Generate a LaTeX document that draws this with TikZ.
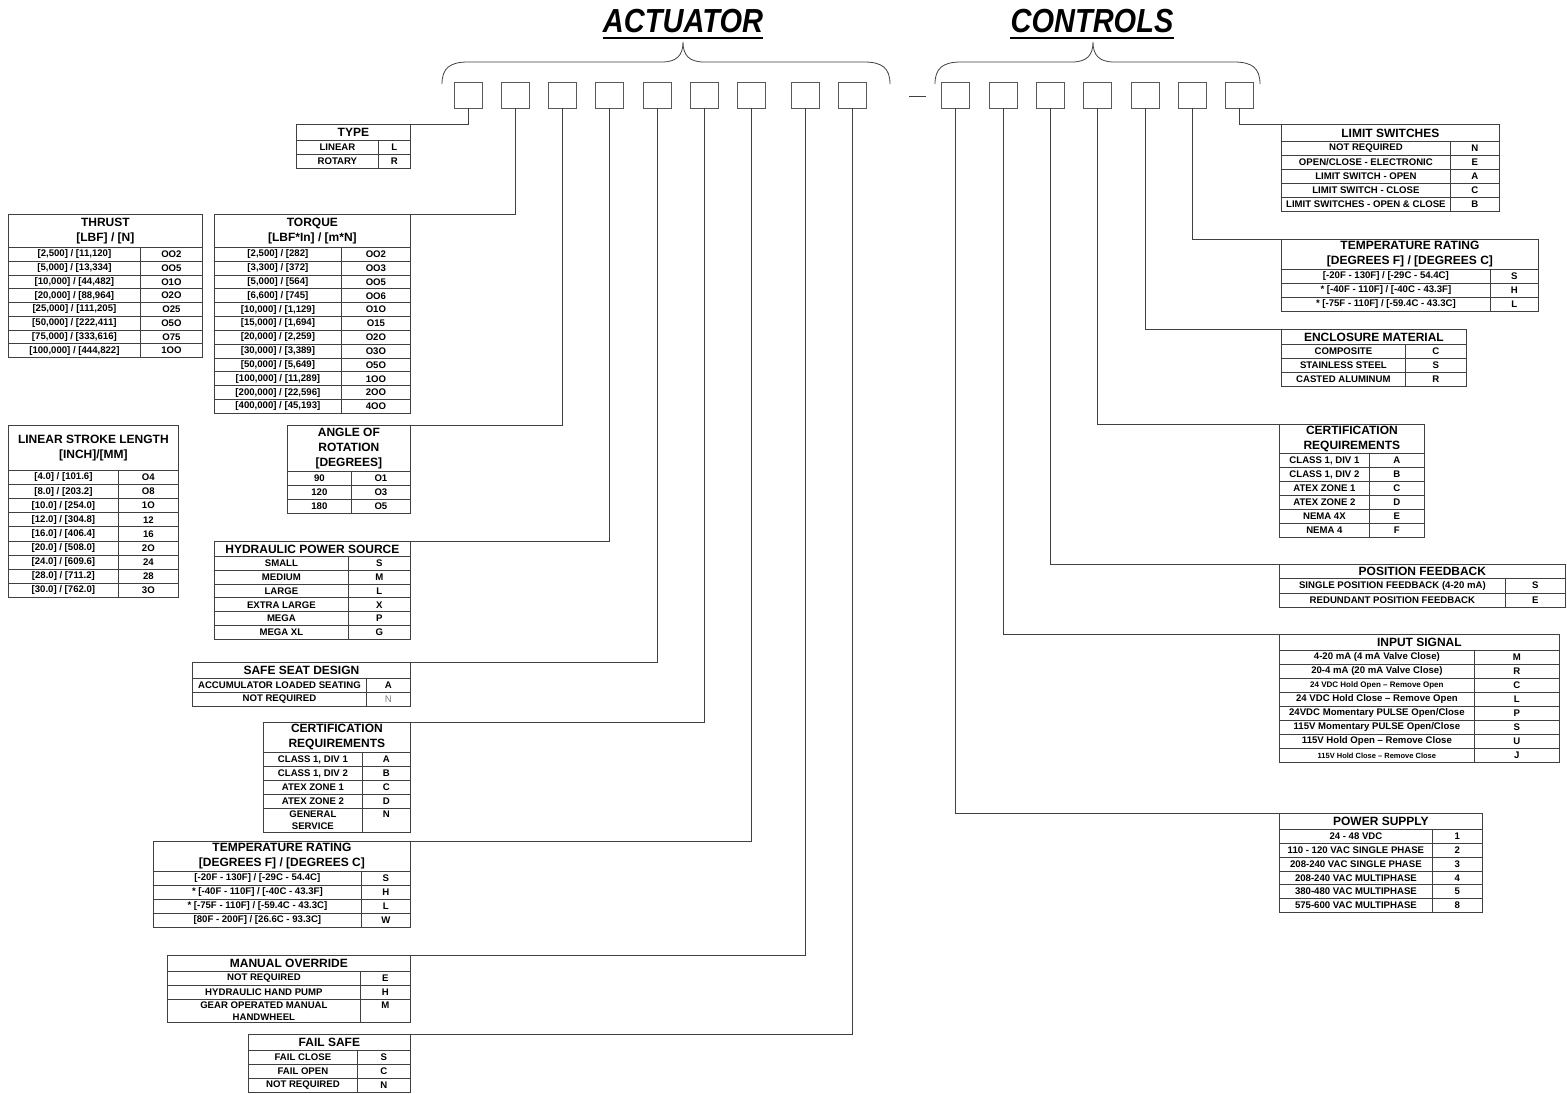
\documentclass[tikz,border=0pt]{standalone}
\usepackage{fontspec}
\setmainfont{Liberation Sans}

\begin{document}
\begin{tikzpicture}[x=1pt,y=-1pt,line width=0.8pt,
  every node/.style={inner sep=0pt,font=\bfseries\fontsize{9.6}{12}\selectfont},
  heading/.style={anchor=base,font=\bfseries\itshape\fontsize{29}{32}\selectfont},
  slot/.style={draw=black!65,minimum width=28,minimum height=26},
  head/.style={draw=black!75,anchor=north west,align=center,font=\bfseries\fontsize{12}{15}\selectfont},
  cell/.style={draw=black!75,anchor=north west,minimum height=14},
  link/.style={draw=black!75}]
  \useasboundingbox (0,0) rectangle (1567,1093);

  % headings and braces
  \node[heading] (act) at (683,32) {\scalebox{1}[1.15]{ACTUATOR}};
  \node[heading] (ctl) at (1092,32) {\scalebox{1}[1.15]{CONTROLS}};
  \draw[line width=2.2] ([yshift=-5pt]act.south west) -- ([yshift=-5pt]act.south east);
  \draw[line width=2.2] ([yshift=-5pt]ctl.south west) -- ([yshift=-5pt]ctl.south east);
  \draw[black!75] (442,84) .. controls (442,68) and (450,62) .. (468,62) -- (662,62)
    .. controls (677,62) and (683,55) .. (683,42) .. controls (683,55) and (689,62) .. (704,62)
    -- (864,62) .. controls (882,62) and (890,68) .. (890,84);
  \draw[black!75] (935,84) .. controls (935,68) and (943,62) .. (961,62) -- (1072,62)
    .. controls (1087,62) and (1093,55) .. (1093,42) .. controls (1093,55) and (1099,62) .. (1114,62)
    -- (1234,62) .. controls (1252,62) and (1260,68) .. (1260,84);
  \draw[black!75] (909,96) -- (926,96);

  % code slots
  \foreach \x [count=\i] in {468,515,562,609,657,704,751,805,852}
    \node[slot] (a\i) at (\x,95) {};
  \foreach \x [count=\i] in {955,1003,1050,1097,1145,1192,1239}
    \node[slot] (c\i) at (\x,95) {};

  % type
  \node[head,minimum width=114,minimum height=16] (type) at (296,124) {TYPE};
  \foreach \txt/\cd [count=\i from 0] in {LINEAR/L,ROTARY/R}{
    \node[cell,minimum width=82] (type-t\i) at (296,140+14*\i) {\txt};
    \node[cell,minimum width=32] (type-c\i) at (378,140+14*\i) {\cd};
  }

  % thrust
  \node[head,minimum width=194,minimum height=33] (thrust) at (8,214) {THRUST\\{}[LBF] / [N]};
  \foreach \txt/\cd [count=\i from 0] in {{[2,500] / [11,120]}/OO2,{[5,000] / [13,334]}/OO5,
      {[10,000] / [44,482]}/O1O,{[20,000] / [88,964]}/O2O,{[25,000] / [111,205]}/O25,
      {[50,000] / [222,411]}/O5O,{[75,000] / [333,616]}/O75,{[100,000] / [444,822]}/1OO}{
    \node[cell,minimum width=132,minimum height=13.75] (thrust-t\i) at (8,247+13.75*\i) {\txt};
    \node[cell,minimum width=62,minimum height=13.75] (thrust-c\i) at (140,247+13.75*\i) {\cd};
  }

  % torque
  \node[head,minimum width=196,minimum height=33] (torque) at (214,214) {TORQUE\\{}[LBF*In] / [m*N]};
  \foreach \txt/\cd [count=\i from 0] in {{[2,500] / [282]}/OO2,{[3,300] / [372]}/OO3,
      {[5,000] / [564]}/OO5,{[6,600] / [745]}/OO6,{[10,000] / [1,129]}/O1O,
      {[15,000] / [1,694]}/O15,{[20,000] / [2,259]}/O2O,{[30,000] / [3,389]}/O3O,
      {[50,000] / [5,649]}/O5O,{[100,000] / [11,289]}/1OO,{[200,000] / [22,596]}/2OO,
      {[400,000] / [45,193]}/4OO}{
    \node[cell,minimum width=127,minimum height=13.83] (torque-t\i) at (214,247+13.83*\i) {\txt};
    \node[cell,minimum width=69,minimum height=13.83] (torque-c\i) at (341,247+13.83*\i) {\cd};
  }

  % linear stroke
  \node[head,minimum width=170,minimum height=45] (stroke) at (8,425) {LINEAR STROKE LENGTH\\{}[INCH]/[MM]};
  \foreach \txt/\cd [count=\i from 0] in {{[4.0] / [101.6]}/O4,{[8.0] / [203.2]}/O8,
      {[10.0] / [254.0]}/1O,{[12.0] / [304.8]}/12,{[16.0] / [406.4]}/16,{[20.0] / [508.0]}/2O,
      {[24.0] / [609.6]}/24,{[28.0] / [711.2]}/28,{[30.0] / [762.0]}/3O}{
    \node[cell,minimum width=110,minimum height=14.1] (stroke-t\i) at (8,470+14.1*\i) {\txt};
    \node[cell,minimum width=60,minimum height=14.1] (stroke-c\i) at (118,470+14.1*\i) {\cd};
  }

  % angle of rotation
  \node[head,minimum width=123,minimum height=46] (angle) at (287,425) {ANGLE OF\\ROTATION\\{}[DEGREES]};
  \foreach \txt/\cd [count=\i from 0] in {90/O1,120/O3,180/O5}{
    \node[cell,minimum width=64] (angle-t\i) at (287,471+14*\i) {\txt};
    \node[cell,minimum width=59] (angle-c\i) at (351,471+14*\i) {\cd};
  }

  % hydraulic power source
  \node[head,minimum width=196,minimum height=15] (hydr) at (214,541) {HYDRAULIC POWER SOURCE};
  \foreach \txt/\cd [count=\i from 0] in {SMALL/S,MEDIUM/M,LARGE/L,EXTRA LARGE/X,MEGA/P,MEGA XL/G}{
    \node[cell,minimum width=134,minimum height=13.83] (hydr-t\i) at (214,556+13.83*\i) {\txt};
    \node[cell,minimum width=62,minimum height=13.83] (hydr-c\i) at (348,556+13.83*\i) {\cd};
  }

  % safe seat design
  \node[head,minimum width=218,minimum height=16] (seat) at (192,662) {SAFE SEAT DESIGN};
  \foreach \txt/\cd [count=\i from 0] in {ACCUMULATOR LOADED SEATING/A,
      NOT REQUIRED/{\mdseries\color{black!50}N}}{
    \node[cell,minimum width=174] (seat-t\i) at (192,678+14*\i) {\txt};
    \node[cell,minimum width=44] (seat-c\i) at (366,678+14*\i) {\cd};
  }

  % certification (actuator)
  \node[head,minimum width=147,minimum height=30] (cert) at (263,722) {CERTIFICATION\\REQUIREMENTS};
  \foreach \txt/\cd [count=\i from 0] in {{CLASS 1, DIV 1}/A,{CLASS 1, DIV 2}/B,ATEX ZONE 1/C,ATEX ZONE 2/D}{
    \node[cell,minimum width=99] (cert-t\i) at (263,752+14*\i) {\txt};
    \node[cell,minimum width=48] (cert-c\i) at (362,752+14*\i) {\cd};
  }
  \node[cell,minimum width=99,minimum height=24,align=center] (cert-t4) at (263,808) {GENERAL\\SERVICE};
  \node[cell,minimum width=48,minimum height=24,align=center] (cert-c4) at (362,808) {N\\\phantom{N}};

  % temperature rating (actuator)
  \node[head,minimum width=257,minimum height=30] (temp) at (153,841) {TEMPERATURE RATING\\{}[DEGREES F] / [DEGREES C]};
  \foreach \txt/\cd [count=\i from 0] in {{[-20F - 130F] / [-29C - 54.4C]}/S,
      {* [-40F - 110F] / [-40C - 43.3F]}/H,{* [-75F - 110F] / [-59.4C - 43.3C]}/L,
      {[80F - 200F] / [26.6C - 93.3C]}/W}{
    \node[cell,minimum width=208] (temp-t\i) at (153,871+14*\i) {\txt};
    \node[cell,minimum width=49] (temp-c\i) at (361,871+14*\i) {\cd};
  }

  % manual override
  \node[head,minimum width=243,minimum height=16] (manual) at (167,955) {MANUAL OVERRIDE};
  \foreach \txt/\cd [count=\i from 0] in {NOT REQUIRED/E,HYDRAULIC HAND PUMP/H}{
    \node[cell,minimum width=193] (manual-t\i) at (167,971+14*\i) {\txt};
    \node[cell,minimum width=50] (manual-c\i) at (360,971+14*\i) {\cd};
  }
  \node[cell,minimum width=193,minimum height=23,align=center] (manual-t2) at (167,999) {GEAR OPERATED MANUAL\\HANDWHEEL};
  \node[cell,minimum width=50,minimum height=23,align=center] (manual-c2) at (360,999) {M\\\phantom{M}};

  % fail safe
  \node[head,minimum width=162,minimum height=16] (fail) at (248,1034) {FAIL SAFE};
  \foreach \txt/\cd [count=\i from 0] in {FAIL CLOSE/S,FAIL OPEN/C,NOT REQUIRED/N}{
    \node[cell,minimum width=109] (fail-t\i) at (248,1050+14*\i) {\txt};
    \node[cell,minimum width=53] (fail-c\i) at (357,1050+14*\i) {\cd};
  }

  % limit switches
  \node[head,minimum width=218,minimum height=17] (limit) at (1281,124) {LIMIT SWITCHES};
  \foreach \txt/\cd [count=\i from 0] in {NOT REQUIRED/N,{OPEN/CLOSE - ELECTRONIC}/E,
      LIMIT SWITCH - OPEN/A,LIMIT SWITCH - CLOSE/C,LIMIT SWITCHES - OPEN \& CLOSE/B}{
    \node[cell,minimum width=169] (limit-t\i) at (1281,141+14*\i) {\txt};
    \node[cell,minimum width=49] (limit-c\i) at (1450,141+14*\i) {\cd};
  }

  % temperature rating (controls)
  \node[head,minimum width=257,minimum height=30] (tempr) at (1281,239) {TEMPERATURE RATING\\{}[DEGREES F] / [DEGREES C]};
  \foreach \txt/\cd [count=\i from 0] in {{[-20F - 130F] / [-29C - 54.4C]}/S,
      {* [-40F - 110F] / [-40C - 43.3F]}/H,{* [-75F - 110F] / [-59.4C - 43.3C]}/L}{
    \node[cell,minimum width=209] (tempr-t\i) at (1281,269+14*\i) {\txt};
    \node[cell,minimum width=48] (tempr-c\i) at (1490,269+14*\i) {\cd};
  }

  % enclosure material
  \node[head,minimum width=185,minimum height=15] (encl) at (1281,329) {ENCLOSURE MATERIAL};
  \foreach \txt/\cd [count=\i from 0] in {COMPOSITE/C,STAINLESS STEEL/S,CASTED ALUMINUM/R}{
    \node[cell,minimum width=124] (encl-t\i) at (1281,344+14*\i) {\txt};
    \node[cell,minimum width=61] (encl-c\i) at (1405,344+14*\i) {\cd};
  }

  % certification (controls)
  \node[head,minimum width=145,minimum height=29] (certr) at (1279,424) {CERTIFICATION\\REQUIREMENTS};
  \foreach \txt/\cd [count=\i from 0] in {{CLASS 1, DIV 1}/A,{CLASS 1, DIV 2}/B,ATEX ZONE 1/C,
      ATEX ZONE 2/D,NEMA 4X/E,NEMA 4/F}{
    \node[cell,minimum width=90] (certr-t\i) at (1279,453+14*\i) {\txt};
    \node[cell,minimum width=55] (certr-c\i) at (1369,453+14*\i) {\cd};
  }

  % position feedback
  \node[head,minimum width=286,minimum height=14] (posfb) at (1279,564) {POSITION FEEDBACK};
  \foreach \txt/\cd [count=\i from 0] in {SINGLE POSITION FEEDBACK (4-20 mA)/S,REDUNDANT POSITION FEEDBACK/E}{
    \node[cell,minimum width=226,minimum height=14.5] (posfb-t\i) at (1279,578+14.5*\i) {\txt};
    \node[cell,minimum width=60,minimum height=14.5] (posfb-c\i) at (1505,578+14.5*\i) {\cd};
  }

  % input signal
  \node[head,minimum width=280,minimum height=16] (input) at (1279,634) {INPUT SIGNAL};
  \foreach \txt/\cd [count=\i from 0] in {4-20 mA (4 mA Valve Close)/M,20-4 mA (20 mA Valve Close)/R,
      {\fontsize{8}{10}\selectfont 24 VDC Hold Open -- Remove Open}/C,
      24 VDC Hold Close -- Remove Open/L,{24VDC Momentary PULSE Open/Close}/P,
      {115V Momentary PULSE Open/Close}/S,115V Hold Open -- Remove Close/U,
      {\fontsize{7.5}{10}\selectfont 115V Hold Close -- Remove Close}/J}{
    \node[cell,minimum width=195] (input-t\i) at (1279,650+14*\i) {\txt};
    \node[cell,minimum width=85] (input-c\i) at (1474,650+14*\i) {\cd};
  }

  % power supply
  \node[head,minimum width=203,minimum height=16] (power) at (1279,813) {POWER SUPPLY};
  \foreach \txt/\cd [count=\i from 0] in {24 - 48 VDC/1,110 - 120 VAC SINGLE PHASE/2,
      208-240 VAC SINGLE PHASE/3,208-240 VAC MULTIPHASE/4,380-480 VAC MULTIPHASE/5,
      575-600 VAC MULTIPHASE/8}{
    \node[cell,minimum width=153,minimum height=13.83] (power-t\i) at (1279,829+13.83*\i) {\txt};
    \node[cell,minimum width=50,minimum height=13.83] (power-c\i) at (1432,829+13.83*\i) {\cd};
  }

  % leaders from the slots
  \foreach \s/\t in {a1/type,a2/torque,a3/angle,a4/hydr,a5/seat,a6/cert,a7/temp,a8/manual,a9/fail}
    \draw[link] (\s.south) |- (\t.north east);
  \foreach \s/\t in {c1/power,c2/input,c3/posfb,c4/certr,c5/encl,c6/tempr,c7/limit}
    \draw[link] (\s.south) |- (\t.north west);
\end{tikzpicture}
\end{document}
